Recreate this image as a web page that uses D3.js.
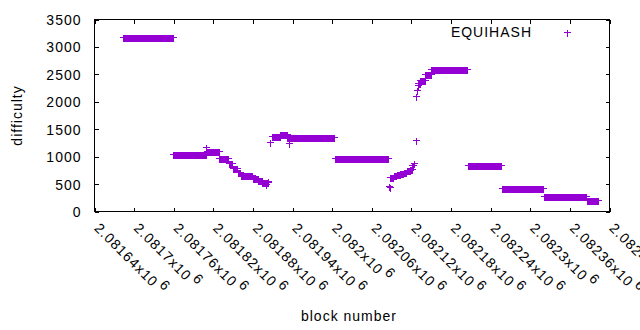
<!DOCTYPE html>
<html>
<head>
<meta charset="utf-8">
<script src="https://cdn.jsdelivr.net/npm/d3@7/dist/d3.min.js"></script>
<style>
  html, body { margin: 0; padding: 0; background: #fff; }
  svg { display: block; }
  text { font-family: "Liberation Sans", Arial, sans-serif; fill: #000; }
</style>
</head>
<body>
<svg id="chart" width="640" height="330"></svg>
<script>
// Run-length encoded per-block difficulty: each run is a span of consecutive blocks with constant difficulty
const runStart = [2081684, 2081760, 2081810, 2081811, 2081830, 2081844, 2081850, 2081858, 2081862, 2081881,
  2081889, 2081895, 2081900, 2081901, 2081904, 2081906, 2081909, 2081922, 2081933, 2081936,
  2081937, 2082005, 2082087, 2082088, 2082089, 2082094, 2082099, 2082104, 2082109, 2082114,
  2082119, 2082122, 2082124, 2082127, 2082128, 2082129, 2082130, 2082131, 2082134, 2082142,
  2082151, 2082207, 2082258, 2082322, 2082387];
const runEnd = [2081759, 2081809, 2081810, 2081829, 2081843, 2081849, 2081857, 2081861, 2081880, 2081888,
  2081894, 2081899, 2081900, 2081903, 2081904, 2081906, 2081921, 2081932, 2081935, 2081936,
  2082003, 2082085, 2082087, 2082088, 2082093, 2082098, 2082103, 2082108, 2082113, 2082118,
  2082121, 2082123, 2082125, 2082127, 2082128, 2082129, 2082130, 2082133, 2082141, 2082150,
  2082205, 2082256, 2082320, 2082385, 2082403];
const runDifficulty = [3180, 1035, 1160, 1090, 960, 880, 790, 710, 660, 600,
  560, 530, 500, 520, 545, 1250, 1375, 1400, 1340, 1235,
  1340, 975, 460, 440, 620, 650, 670, 690, 710, 740,
  770, 830, 870, 1290, 2100, 2210, 2300, 2340, 2390, 2490,
  2580, 835, 412, 267, 195];

const seriesName = "EQUIHASH";
const xDomain = [2081640, 2082420];
const yDomain = [0, 3500];
const xTickValues = [2081640, 2081700, 2081760, 2081820, 2081880, 2081940, 2082000, 2082060, 2082120, 2082180, 2082240, 2082300, 2082360, 2082420];
const xTickLabels = ["2.08164", "2.0817", "2.08176", "2.08182", "2.08188", "2.08194", "2.082", "2.08206", "2.08212", "2.08218", "2.08224", "2.0823", "2.08236", "2.08242"];
const yTickValues = [0, 500, 1000, 1500, 2000, 2500, 3000, 3500];
const yTickLabels = ["0", "500", "1000", "1500", "2000", "2500", "3000", "3500"];
const xTitle = "block number";
const yTitle = "difficulty";

(function () {
// expand runs into one point per block
const points = [];
runStart.forEach((s, i) => {
  for (let b = s; b <= runEnd[i]; b++) points.push({ block: b, difficulty: runDifficulty[i] });
});

const color = "#9400d3";
const pL = 94, pR = 609, pT = 19, pB = 211;
const svg = d3.select("#chart");
const x = d3.scaleLinear().domain(xDomain).range([pL, pR]);
const y = d3.scaleLinear().domain(yDomain).range([pB, pT]);
const FS = 14, LS = 1;

// axes (ticks pointing inward, mirrored)
const gx = svg.append("g").attr("transform", `translate(0.5,${pB + 0.5})`)
  .call(d3.axisBottom(x).tickValues(xTickValues).tickSizeInner(-4).tickSizeOuter(0).tickFormat(""));
const gxt = svg.append("g").attr("transform", `translate(0.5,${pT + 0.5})`)
  .call(d3.axisTop(x).tickValues(xTickValues).tickSizeInner(-4).tickSizeOuter(0).tickFormat(""));
const gy = svg.append("g").attr("transform", `translate(${pL + 0.5},0.5)`)
  .call(d3.axisLeft(y).tickValues(yTickValues).tickSizeInner(-4).tickSizeOuter(0).tickFormat((d, i) => yTickLabels[i]));
const gyr = svg.append("g").attr("transform", `translate(${pR + 0.5},0.5)`)
  .call(d3.axisRight(y).tickValues(yTickValues).tickSizeInner(-4).tickSizeOuter(0).tickFormat(""));
[gx, gxt, gy, gyr].forEach(g => {
  g.select(".domain").remove();
  g.selectAll("line").attr("stroke", "#000").attr("shape-rendering", "crispEdges");
});
gy.selectAll("text").attr("x", -(pL - 81)).attr("dy", "0.36em")
  .attr("font-size", FS).attr("letter-spacing", LS).attr("font-family", null).attr("fill", "#000");

// x tick labels rotated
const xl = svg.append("g");
xTickValues.forEach((v, i) => {
  const t = xl.append("text")
    .attr("transform", `translate(${x(v) - 0.5},229) rotate(45)`)
    .attr("font-size", FS).attr("letter-spacing", LS);
  t.append("tspan").text(xTickLabels[i] + "x10");
  t.append("tspan").attr("dx", 3).attr("dy", -6).text("6");
});

// border
svg.append("rect").attr("x", pL + 0.5).attr("y", pT + 0.5)
  .attr("width", pR - pL).attr("height", pB - pT)
  .attr("fill", "none").attr("stroke", "#000").attr("shape-rendering", "crispEdges");

// titles
svg.append("text").attr("x", 349).attr("y", 321).attr("text-anchor", "middle")
  .attr("font-size", FS).attr("letter-spacing", LS).text(xTitle);
svg.append("text").attr("transform", "translate(22,115.5) rotate(-90)").attr("text-anchor", "middle")
  .attr("font-size", FS).attr("letter-spacing", LS).text(yTitle);

// plus markers
const plus = (cx, cy) => `M${cx - 3},${cy}H${cx + 4}M${cx},${cy - 3}V${cy + 4}`;
svg.append("g").selectAll("path").data(points).join("path")
  .attr("d", d => plus(Math.round(x(d.block)), Math.round(y(d.difficulty))))
  .attr("transform", "translate(0,0.5)")
  .attr("stroke", color).attr("stroke-width", 1).attr("fill", "none")
  .attr("shape-rendering", "crispEdges");

// legend
svg.append("text").attr("x", 532).attr("y", 37).attr("text-anchor", "end")
  .attr("font-size", FS).attr("letter-spacing", LS).text(seriesName);
svg.append("path").attr("d", plus(567, 32)).attr("transform", "translate(0,0.5)")
  .attr("stroke", color).attr("stroke-width", 1).attr("fill", "none").attr("shape-rendering", "crispEdges");
})();
</script>
</body>
</html>
